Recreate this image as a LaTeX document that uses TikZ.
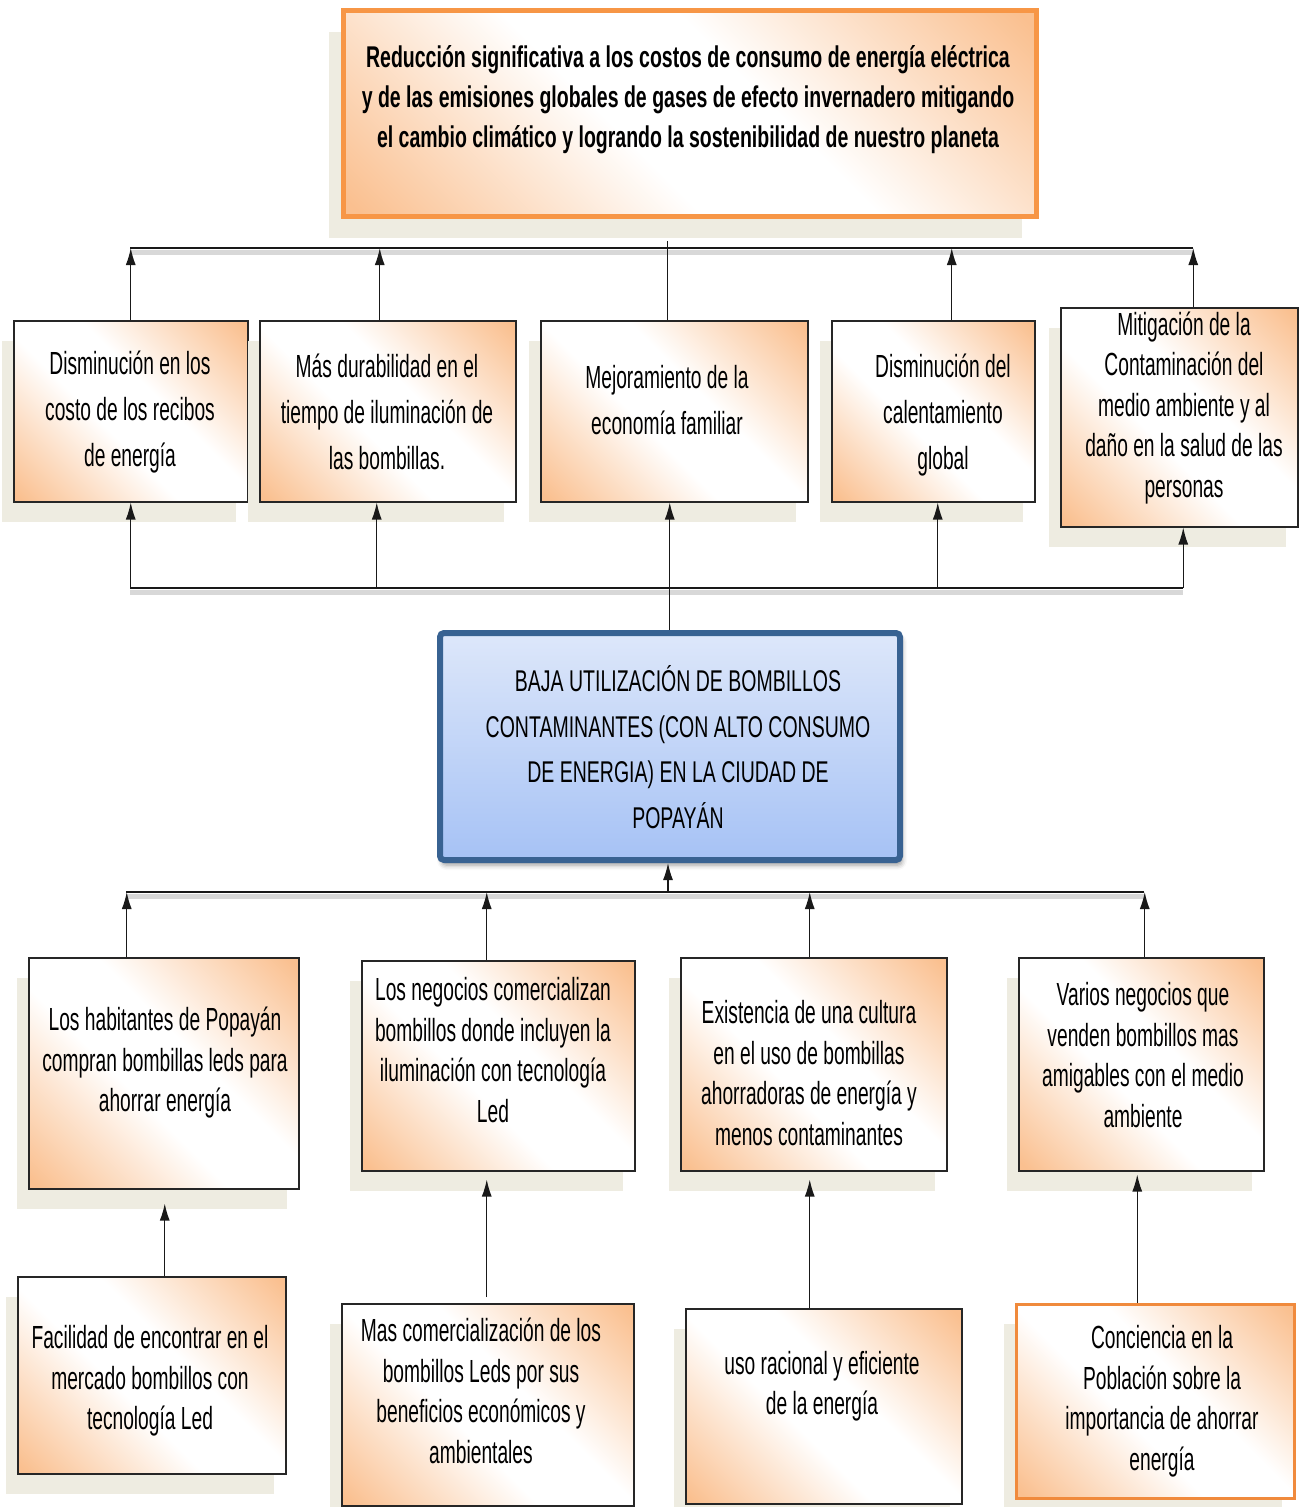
\documentclass[tikz,border=0pt]{standalone}
\usepackage{fontspec}
\setmainfont{Liberation Sans}
\newfontfamily\narrowfont[FakeStretch=0.6]{Liberation Sans}
\newfontfamily\capsfont[FakeStretch=0.65]{Liberation Sans}
\newfontfamily\titlefont[FakeStretch=0.65]{Liberation Sans}
\usetikzlibrary{arrows.meta,shadows,shadows.blur,calc}

\definecolor{boxorange}{HTML}{FAC090}
\definecolor{shadowbeige}{HTML}{EEECE1}
\definecolor{topborder}{HTML}{F79646}
\definecolor{lowborder}{HTML}{F08A3C}
\definecolor{centerblue}{HTML}{386292}
\definecolor{blueTop}{HTML}{DDE7FA}
\definecolor{blueBot}{HTML}{A6C2F5}
\colorlet{paleorange}{boxorange!45!white}

% orange in two opposite corners, fading to white along the other diagonal
\pgfdeclarehorizontalshading{orangediag}{100bp}{color(0bp)=(boxorange); color(16bp)=(boxorange); color(31bp)=(paleorange); color(43bp)=(white); color(57bp)=(white); color(69bp)=(paleorange); color(84bp)=(boxorange); color(100bp)=(boxorange)}

\tikzset{
  cbox/.style={draw=black!85, line width=1.5pt, shading=orangediag, shading angle=45,
    anchor=north west, inner sep=0pt,
    general shadow={fill=shadowbeige, shadow xshift=-12pt, shadow yshift=-20pt}},
  txtA/.style={align=center, inner sep=0pt, font=\narrowfont\fontsize{32}{46}\selectfont},
  txtB/.style={align=center, inner sep=0pt, font=\narrowfont\fontsize{32}{40.5}\selectfont},
  conn/.style={line width=1.3pt, draw=black!90},
  arr/.style={conn, -{Latex[length=17pt,width=10pt]}},
  bar/.style={line width=1.6pt, draw=black!90,
    preaction={draw=black!30, line width=5pt, opacity=0.5, transform canvas={yshift=-4pt}}}
}

\begin{document}
\begin{tikzpicture}[x=1pt,y=-1pt]
\useasboundingbox (0,0) rectangle (1299,1507);

% outcome at the top
\node[anchor=north west, draw=topborder, line width=4.5pt, shading=orangediag, shading angle=45,
      minimum width=693pt, minimum height=206pt, inner sep=0pt,
      general shadow={fill=shadowbeige, shadow xshift=-14pt, shadow yshift=-22pt}] (top) at (341,8) {};
\node[align=center, inner sep=0pt, font=\titlefont\bfseries\fontsize{30}{40}\selectfont] (ttop) at (688,100)
  {Reducción significativa a los costos de consumo de energía eléctrica\\
   y de las emisiones globales de gases de efecto invernadero mitigando\\
   el cambio climático y logrando la sostenibilidad de nuestro planeta};

% effects
\node[cbox, minimum width=234pt, minimum height=181pt] (b1) at (13,320) {};
\node[cbox, minimum width=256pt, minimum height=181pt] (b2) at (259,320) {};
\node[cbox, minimum width=267pt, minimum height=181pt] (b3) at (540,320) {};
\node[cbox, minimum width=203pt, minimum height=181pt] (b4) at (831,320) {};
\node[cbox, minimum width=237pt, minimum height=219pt] (b5) at (1060,307) {};
\node[txtA] (t1) at (130,412) {Disminución en los\\costo de los recibos\\de energía};
\node[txtA] (t2) at (387,412) {Más durabilidad en el\\tiempo de iluminación de\\las bombillas.};
\node[txtA] (t3) at (667,400) {Mejoramiento de la\\economía familiar};
\node[txtA] (t4) at (943,415) {Disminución del\\calentamiento\\global};
\node[txtB] (t5) at (1184,408) {Mitigación de la\\Contaminación del\\medio ambiente y al\\daño en la salud de las\\personas};

% central problem
\node[anchor=north west, draw=centerblue, line width=6pt, rounded corners=4pt,
      top color=blueTop, bottom color=blueBot, minimum width=460pt, minimum height=227pt, inner sep=0pt,
      blur shadow={shadow xshift=2pt, shadow yshift=-5pt, shadow blur radius=5pt}] (cb) at (437,630) {};
\node[align=center, inner sep=0pt, font=\capsfont\fontsize{30}{45.5}\selectfont] (tcb) at (678,747)
  {BAJA UTILIZACIÓN DE BOMBILLOS\\CONTAMINANTES (CON ALTO CONSUMO\\DE ENERGIA) EN LA CIUDAD DE\\POPAYÁN};

% causes
\node[cbox, minimum width=270pt, minimum height=231pt] (b6) at (28,957) {};
\node[cbox, minimum width=273pt, minimum height=210pt] (b7) at (361,960) {};
\node[cbox, minimum width=266pt, minimum height=213pt] (b8) at (680,957) {};
\node[cbox, minimum width=245pt, minimum height=213pt] (b9) at (1018,957) {};
\node[txtB] (t6) at (165,1063) {Los habitantes de Popayán\\compran bombillas leds para\\ahorrar energía};
\node[txtB] (t7) at (493,1050) {Los negocios comercializan\\bombillos donde incluyen la\\iluminación con tecnología\\Led};
\node[txtB] (t8) at (809,1073) {Existencia de una cultura\\en el uso de bombillas\\ahorradoras de energía y\\menos contaminantes};
\node[txtB] (t9) at (1143,1055) {Varios negocios que\\venden bombillos mas\\amigables con el medio\\ambiente};

% root causes
\node[cbox, minimum width=268pt, minimum height=197pt] (b10) at (17,1276) {};
\node[cbox, minimum width=292pt, minimum height=202pt] (b11) at (341,1303) {};
\node[cbox, minimum width=276pt, minimum height=195pt] (b12) at (685,1308) {};
\node[cbox, draw=lowborder, line width=2.5pt, minimum width=278pt, minimum height=194pt] (b13) at (1015,1303) {};
\node[txtB] (t10) at (150,1381) {Facilidad de encontrar en el\\mercado bombillos con\\tecnología Led};
\node[txtB] (t11) at (481,1391) {Mas comercialización de los\\bombillos Leds por sus\\beneficios económicos y\\ambientales};
\node[txtB] (t12) at (822,1386) {uso racional y eficiente\\de la energía};
\node[txtB] (t13) at (1162,1401) {Conciencia en la\\Población sobre la\\importancia de ahorrar\\energía};

% upper bus: effects lead to the outcome
\coordinate (tl) at (130,248);
\coordinate (tr) at (1193,248);
\draw[bar] (tl) -- (tr);
\coordinate (a2) at ($(b2.north)+(-8,0)$);
\coordinate (a3) at ($(b3.north)+(-6.5,0)$);
\coordinate (a4) at ($(b4.north)+(18.5,0)$);
\coordinate (a5) at ($(b5.north)+(14,0)$);
\draw[arr] (b1.north) -- (b1.north |- tl);
\draw[arr] (a2) -- (a2 |- tl);
\draw[conn] (a3) -- ($(a3 |- top.south)+(0,22)$);
\draw[arr] (a4) -- (a4 |- tl);
\draw[arr] (a5) -- (a5 |- tl);

% middle bus: the problem feeds every effect
\coordinate (ml) at (130,588);
\coordinate (mr) at (1183,588);
\draw[bar] (ml) -- (mr);
\coordinate (c2) at ($(b2.south)+(-11,0)$);
\coordinate (c3) at ($(b3.south)+(-4.5,0)$);
\coordinate (c4) at ($(b4.south)+(4.5,0)$);
\coordinate (c5) at ($(b5.south)+(4,0)$);
\draw[arr] (b1.south |- ml) -- (b1.south);
\draw[arr] (c2 |- ml) -- (c2);
\draw[arr] (c3 |- cb.north) -- (c3);
\draw[arr] (c4 |- ml) -- (c4);
\draw[arr] (c5 |- ml) -- (c5);

% lower bus: causes feed the problem
\coordinate (bl) at (126,892);
\coordinate (br) at (1144,892);
\draw[bar] (bl) -- (br);
\coordinate (d0) at ($(cb.south)+(-2,0)$);
\coordinate (d6) at ($(b6.north)+(-37,0)$);
\coordinate (d7) at ($(b7.north)+(-11.5,0)$);
\coordinate (d8) at ($(b8.north)+(-4,0)$);
\coordinate (d9) at ($(b9.north)+(3.5,0)$);
\draw[arr] (d0 |- bl) -- (d0);
\draw[arr] (d6) -- (d6 |- bl);
\draw[arr] (d7) -- (d7 |- bl);
\draw[arr] (d8) -- (d8 |- bl);
\draw[arr] (d9) -- (d9 |- bl);

% root causes feed the causes
\coordinate (e10) at ($(b10.north)+(13,0)$);
\coordinate (e11) at ($(b11.north)+(-1,0)$);
\coordinate (e12) at ($(b12.north)+(-14,0)$);
\coordinate (e13) at ($(b13.north)+(-18,0)$);
\draw[arr, shorten >=14pt] (e10) -- (e10 |- b6.south);
\draw[arr, shorten >=8pt] ($(e11)+(0,-6)$) -- (e11 |- b7.south);
\draw[arr, shorten >=8pt] (e12) -- (e12 |- b8.south);
\draw[arr, shorten >=3pt] (e13) -- (e13 |- b9.south);
\end{tikzpicture}
\end{document}
